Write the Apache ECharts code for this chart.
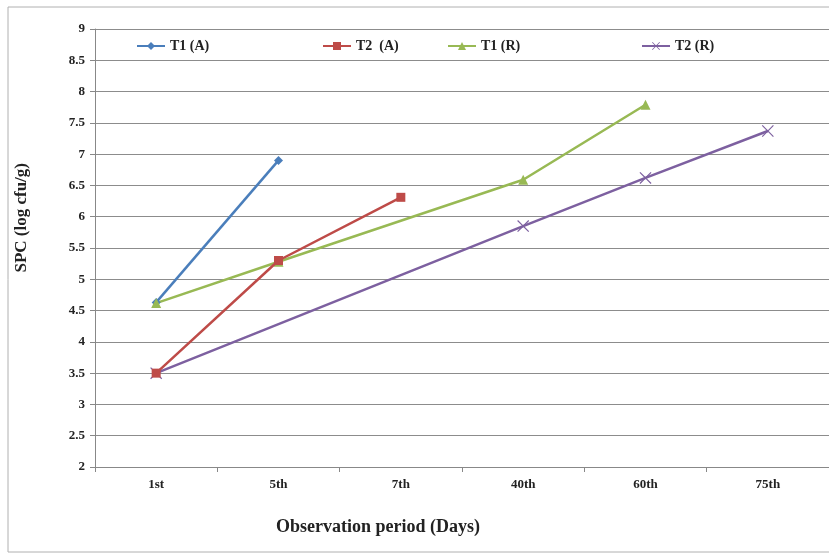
<!DOCTYPE html>
<html>
<head>
<meta charset="utf-8">
<script src="https://cdn.jsdelivr.net/npm/echarts@6/dist/echarts.min.js"></script>
<style>html,body{margin:0;padding:0;background:#fff;}#c{width:829px;height:554px;}</style>
</head>
<body>
<div id="c"></div>
<script>
var categories = ['1st', '5th', '7th', '40th', '60th', '75th'];
var t1A = [4.63, 6.9, null, null, null, null];
var t2A = [3.5, 5.3, 6.31, null, null, null];
var t1R = [4.62, 5.28, null, 6.59, 7.79, null];
var t2R = [3.5, null, null, 5.85, 6.62, 7.37];
var yTicks = { min: 2, max: 9, step: 0.5 };
var seriesNames = ['T1 (A)', 'T2  (A)', 'T1 (R)', 'T2 (R)'];

var serif = 'Liberation Serif, Times New Roman, serif';
var xPath = 'path://M0,0.7L0.7,0L5,4.3L9.3,0L10,0.7L5.7,5L10,9.3L9.3,10L5,5.7L0.7,10L0,9.3L4.3,5Z';
var colors = ['#4A7EBB', '#BE4B48', '#98B954', '#7D60A0'];
var symbols = ['diamond', 'rect', 'triangle', xPath];
var sizes = [9, 9, 10, 12];
var zs = [2, 4, 2, 2];
var datas = [t1A, t2A, t1R, t2R];
var legendLeft = [131, 317, 442, 636];

var chart = echarts.init(document.getElementById('c'));
var series = datas.map(function (d, i) {
  return {
    name: seriesNames[i], type: 'line', data: d, connectNulls: true, z: zs[i],
    symbol: symbols[i], symbolSize: sizes[i], showAllSymbol: true,
    lineStyle: { color: colors[i], width: 2.5 },
    itemStyle: { color: colors[i] }
  };
});
var legends = seriesNames.map(function (n, i) {
  return {
    data: [n], left: legendLeft[i], top: 34, itemWidth: 28, itemHeight: 10, itemGap: 4,
    textStyle: { fontFamily: serif, fontWeight: 'bold', fontSize: 14, color: '#222' }
  };
});
chart.setOption({
  animation: false,
  color: colors,
  grid: { left: 95, width: 738, top: 29, bottom: 87 },
  legend: legends,
  graphic: [
    { type: 'rect', shape: { x: 8, y: 7, width: 840, height: 545 },
      style: { fill: 'none', stroke: '#b0b0b0', lineWidth: 1 } },
    { type: 'text', left: 13, top: 163, rotation: Math.PI / 2,
      style: { text: 'SPC (log cfu/g)', font: 'bold 17px ' + serif, fill: '#222' } },
    { type: 'text', x: 378, y: 527,
      style: { text: 'Observation period (Days)', font: 'bold 18px ' + serif, fill: '#222',
        align: 'center', verticalAlign: 'middle' } }
  ],
  xAxis: {
    type: 'category', data: categories, boundaryGap: true,
    axisLine: { lineStyle: { color: '#888' } },
    axisTick: { show: true, length: 5, lineStyle: { color: '#888' } },
    axisLabel: { fontFamily: serif, fontWeight: 'bold', fontSize: 13, color: '#222', margin: 11 }
  },
  yAxis: {
    type: 'value', min: yTicks.min, max: yTicks.max, interval: yTicks.step,
    axisLine: { show: true, lineStyle: { color: '#888' } },
    axisTick: { show: true, length: 5, lineStyle: { color: '#888' } },
    axisLabel: { fontFamily: serif, fontWeight: 'bold', fontSize: 13, color: '#222', margin: 10 },
    splitLine: { lineStyle: { color: '#8c8c8c', width: 1 } }
  },
  series: series
});
</script>
</body>
</html>
